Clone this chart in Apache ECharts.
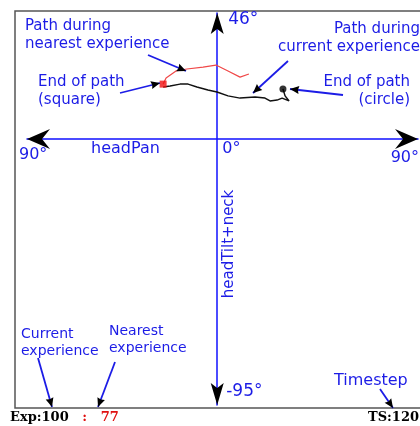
<!DOCTYPE html>
<html>
<head>
<meta charset="utf-8">
<script src="https://cdn.jsdelivr.net/npm/echarts@6/dist/echarts.min.js"></script>
<style>
html, body { margin: 0; padding: 0; background: #fff; }
#chart { width: 420px; height: 426px; }
</style>
</head>
<body>
<div id="chart"></div>
<script>
// angles in degrees: headPan (x), headTilt+neck (y)
const panRange = [-90, 95];
const tiltRange = [-95, 45];

const nearestPan  = [-25.6, -24.2, -19.5, -14.3, -6.7, -0.6, 5.1, 10.8, 15.0];
const nearestTilt = [19.6, 21.8, 24.3, 25.0, 25.7, 26.4, 24.3, 22.1, 23.2];

const currentPan  = [-25.6, -22.3, -17.6, -13.8, -9.6, -4.4, -0.1, 5.1, 10.8, 17.9, 22.6, 25.0, 28.3, 30.7, 34.0, 32.1, 31.1];
const currentTilt = [18.6, 18.9, 19.6, 19.6, 18.6, 17.5, 16.8, 15.4, 14.6, 15.0, 14.6, 13.6, 13.9, 14.6, 13.6, 15.4, 17.9];

const nearestEnd = [-25.6, 19.6];
const currentEnd = [31.1, 17.9];

const panTickLabels = ['90°', '0°', '90°'];
const tiltTickLabels = ['46°', '-95°'];

const expCurrent = 100;
const expNearest = 77;
const timestep = 120;

const BLUE = '#1c1ce6';
const FONT = 'DejaVu Sans';

const zip = (a, b) => a.map((v, i) => [v, b[i]]);

const chart = echarts.init(document.getElementById('chart'));

chart.setOption({
    backgroundColor: '#fff',
    animation: false,
    grid: { left: 27, right: 2, top: 13, bottom: 21 },
    xAxis: {
        type: 'value',
        min: panRange[0],
        max: panRange[1],
        axisLine: { onZero: true, lineStyle: { color: '#1010ff', width: 1.5 } },
        axisTick: { show: false },
        axisLabel: { show: false },
        splitLine: { show: false }
    },
    yAxis: {
        type: 'value',
        min: tiltRange[0],
        max: tiltRange[1],
        axisLine: { onZero: true, lineStyle: { color: '#1010ff', width: 1.5 } },
        axisTick: { show: false },
        axisLabel: { show: false },
        splitLine: { show: false }
    },
    series: [
        {
            type: 'line',
            data: zip(nearestPan, nearestTilt),
            symbol: 'none',
            lineStyle: { color: '#f04848', width: 1.2 },
            z: 3
        },
        {
            type: 'line',
            data: zip(currentPan, currentTilt),
            symbol: 'none',
            lineStyle: { color: '#111', width: 1.5 },
            z: 3
        },
        {
            type: 'scatter',
            data: [nearestEnd],
            symbol: 'rect',
            symbolSize: 7,
            itemStyle: { color: '#f01010' },
            z: 4
        },
        {
            type: 'scatter',
            data: [currentEnd],
            symbol: 'circle',
            symbolSize: 7,
            itemStyle: { color: '#000' },
            z: 4
        }
    ]
});

// arrowhead polygon: tip point, direction from tail
function head(tip, from, len, half, notch) {
    const dx = tip[0] - from[0], dy = tip[1] - from[1];
    const d = Math.hypot(dx, dy);
    const ux = dx / d, uy = dy / d;
    const bx = tip[0] - ux * len, by = tip[1] - uy * len;
    const nx = tip[0] - ux * (len - notch), ny = tip[1] - uy * (len - notch);
    return [tip, [bx - uy * half, by + ux * half], [nx, ny], [bx + uy * half, by - ux * half]];
}

function pointer(from, to) {
    return [
        { type: 'line', shape: { x1: from[0], y1: from[1], x2: to[0], y2: to[1] },
          style: { stroke: BLUE, lineWidth: 1.8 }, z: 10 },
        { type: 'polygon', shape: { points: head(to, from, 9, 4, 1) },
          style: { fill: '#000' }, z: 11 }
    ];
}

function label(text, x, y, opts) {
    return Object.assign({
        type: 'text', x: x, y: y, z: 12,
        style: Object.assign({ text: text, fill: BLUE, font: '15px "' + FONT + '"',
            verticalAlign: 'top', align: 'left', lineHeight: 18 }, opts || {})
    });
}

const origin = chart.convertToPixel({ gridIndex: 0 }, [0, 0]);
const leftEnd = chart.convertToPixel({ gridIndex: 0 }, [panRange[0], 0]);
const rightEnd = chart.convertToPixel({ gridIndex: 0 }, [panRange[1], 0]);
const topEnd = chart.convertToPixel({ gridIndex: 0 }, [0, tiltRange[1]]);
const botEnd = chart.convertToPixel({ gridIndex: 0 }, [0, tiltRange[0]]);

const graphics = [
    { type: 'rect', shape: { x: 15, y: 11, width: 420, height: 397 },
      style: { fill: 'none', stroke: '#555', lineWidth: 1.5 }, z: 1 },
    { type: 'polygon', shape: { points: head(leftEnd, origin, 23, 10, 8) }, style: { fill: '#000' }, z: 11 },
    { type: 'polygon', shape: { points: head(rightEnd, origin, 23, 10, 8) }, style: { fill: '#000' }, z: 11 },
    { type: 'polygon', shape: { points: head(topEnd, origin, 21, 6.5, 5) }, style: { fill: '#000' }, z: 11 },
    { type: 'polygon', shape: { points: head(botEnd, origin, 22, 6.5, 5) }, style: { fill: '#000' }, z: 11 },

    label(panTickLabels[0], leftEnd[0] - 8, origin[1] + 7, { font: '16px "' + FONT + '"' }),
    label(panTickLabels[1], origin[0] + 5, origin[1] + 1, { font: '16px "' + FONT + '"' }),
    label(panTickLabels[2], rightEnd[0] + 1, origin[1] + 10, { font: '16px "' + FONT + '"', align: 'right' }),
    label(tiltTickLabels[0], topEnd[0] + 11, topEnd[1] - 2, { font: '17px "' + FONT + '"' }),
    label(tiltTickLabels[1], botEnd[0] + 9, botEnd[1] - 22, { font: '17px "' + FONT + '"' }),

    label('headPan', 91, origin[1] + 1, { font: '16px "' + FONT + '"' }),
    { type: 'text', x: origin[0] + 12, y: 244, rotation: Math.PI / 2, z: 12,
      style: { text: 'headTilt+neck', fill: BLUE, font: '15px "' + FONT + '"', align: 'center', verticalAlign: 'middle' } },

    label('Path during\nnearest experience', 25, 17),
    label('End of path\n(square)', 38, 73),
    label('Path during\ncurrent experience', 420, 20, { align: 'right' }),
    label('End of path\n(circle)', 410, 73, { align: 'right' }),
    label('Current\nexperience', 21, 326, { font: '14px "' + FONT + '"', lineHeight: 17 }),
    label('Nearest\nexperience', 109, 323, { font: '14px "' + FONT + '"', lineHeight: 17 }),
    label('Timestep', 334, 372, { font: '16px "' + FONT + '"' }),

    { type: 'text', x: 10, y: 411, z: 12,
      style: {
          text: '{k|Exp:' + expCurrent + '}{r|   :   ' + expNearest + '}',
          verticalAlign: 'top',
          rich: {
              k: { fill: '#000', font: 'bold 13px "DejaVu Serif"' },
              r: { fill: '#e01010', font: 'bold 13px "DejaVu Serif"' }
          }
      } },
    { type: 'text', x: 419, y: 411, z: 12,
      style: { text: 'TS:' + timestep, fill: '#000', font: 'bold 13px "DejaVu Serif"', align: 'right', verticalAlign: 'top' } }
];

[
    [[148, 55], [186, 71]],
    [[120, 93], [160, 83]],
    [[288, 61], [253, 93]],
    [[343, 95], [290, 89]],
    [[38, 358], [52, 407]],
    [[115, 362], [98, 407]],
    [[380, 389], [393, 408]]
].forEach(p => graphics.push(...pointer(p[0], p[1])));

chart.setOption({ graphic: graphics });
</script>
</body>
</html>
